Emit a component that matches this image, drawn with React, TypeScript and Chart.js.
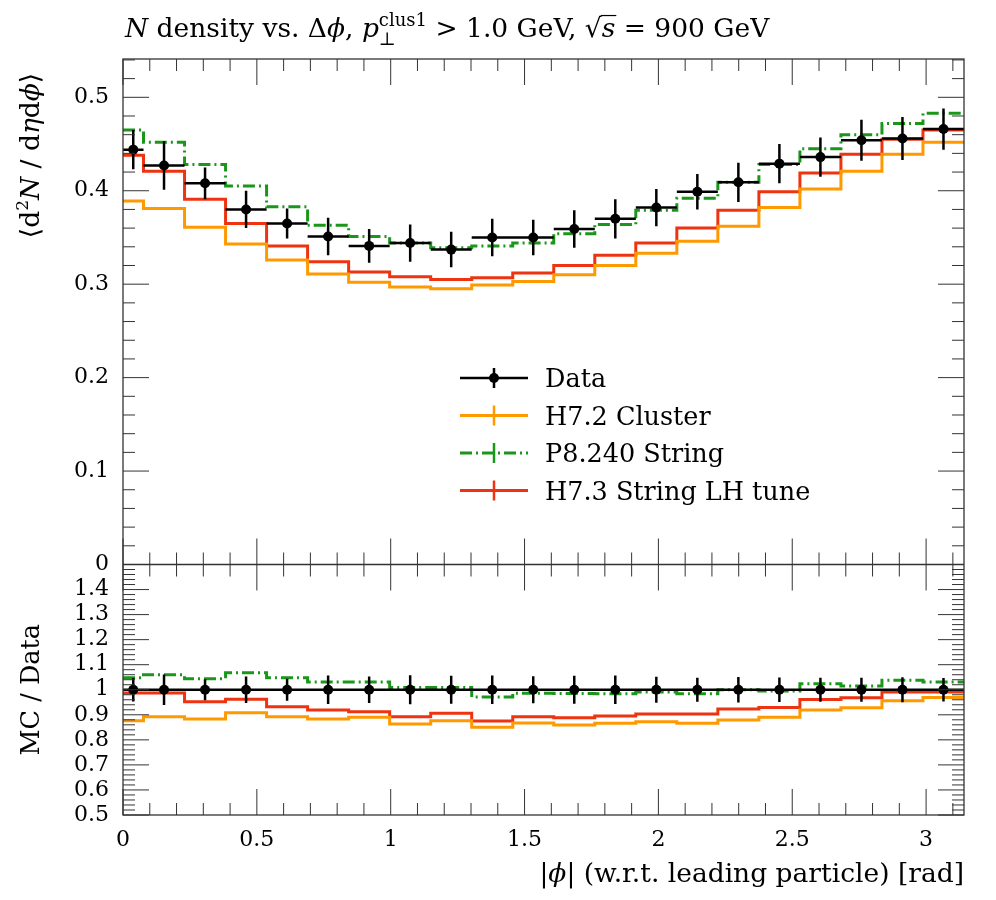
import React, { useEffect, useRef } from 'react';
import { Chart, registerables } from 'chart.js';
Chart.register(...registerables);

// ---- data ----
const binEdges = [0, 0.0766, 0.2299, 0.3831, 0.5364, 0.6896, 0.8429, 0.9961, 1.1494, 1.3026, 1.4559, 1.6091, 1.7624, 1.9156, 2.0689, 2.2221, 2.3754, 2.5286, 2.6819, 2.8351, 2.9883, 3.1416];
const dataVals = [0.444, 0.427, 0.408, 0.380, 0.365, 0.351, 0.341, 0.344, 0.337, 0.350, 0.350, 0.359, 0.370, 0.382, 0.399, 0.409, 0.429, 0.436, 0.454, 0.456, 0.466];
const dataErrs = [0.021, 0.026, 0.017, 0.020, 0.016, 0.020, 0.018, 0.020, 0.019, 0.020, 0.019, 0.020, 0.021, 0.020, 0.019, 0.021, 0.021, 0.021, 0.022, 0.023, 0.022];
const h72Vals = [0.389, 0.381, 0.361, 0.343, 0.326, 0.311, 0.302, 0.297, 0.295, 0.299, 0.303, 0.310, 0.320, 0.333, 0.346, 0.362, 0.382, 0.402, 0.421, 0.439, 0.452];
const p8Vals = [0.465, 0.452, 0.428, 0.405, 0.383, 0.363, 0.351, 0.344, 0.339, 0.341, 0.344, 0.354, 0.364, 0.379, 0.392, 0.409, 0.428, 0.445, 0.460, 0.472, 0.483];
const h73Vals = [0.438, 0.421, 0.391, 0.365, 0.341, 0.324, 0.313, 0.308, 0.305, 0.307, 0.312, 0.320, 0.331, 0.344, 0.360, 0.379, 0.399, 0.419, 0.439, 0.455, 0.465];

const dataRatioErrs = [0.047, 0.061, 0.042, 0.053, 0.044, 0.057, 0.053, 0.058, 0.056, 0.057, 0.054, 0.056, 0.057, 0.052, 0.048, 0.051, 0.049, 0.048, 0.048, 0.050, 0.047];
const h72Ratio = [0.876, 0.892, 0.883, 0.908, 0.892, 0.883, 0.890, 0.863, 0.876, 0.850, 0.867, 0.859, 0.866, 0.872, 0.866, 0.879, 0.890, 0.919, 0.928, 0.956, 0.969];
const p8Ratio = [1.048, 1.060, 1.044, 1.068, 1.048, 1.031, 1.031, 1.009, 1.009, 0.971, 0.986, 0.985, 0.984, 0.991, 0.984, 1.000, 0.995, 1.024, 1.015, 1.038, 1.031];
const h73Ratio = [0.987, 0.987, 0.952, 0.962, 0.932, 0.919, 0.912, 0.892, 0.906, 0.875, 0.892, 0.888, 0.895, 0.903, 0.903, 0.923, 0.929, 0.961, 0.968, 0.991, 0.991];

const xTickValues = [0, 0.5, 1, 1.5, 2, 2.5, 3];
const xTickLabels = ['0', '0.5', '1', '1.5', '2', '2.5', '3'];
const yTickValues = [0, 0.1, 0.2, 0.3, 0.4, 0.5];
const yTickLabels = ['0', '0.1', '0.2', '0.3', '0.4', '0.5'];
const rTickValues = [0.5, 0.6, 0.7, 0.8, 0.9, 1.0, 1.1, 1.2, 1.3, 1.4];
const rTickLabels = ['0.5', '0.6', '0.7', '0.8', '0.9', '1', '1.1', '1.2', '1.3', '1.4'];

const legendLabels = ['Data', 'H7.2 Cluster', 'P8.240 String', 'H7.3 String LH tune'];

const SERIF = "'DejaVu Serif', 'Liberation Serif', serif";
const C_DATA = '#000000';
const C_H72 = '#ff9900';
const C_P8 = '#1a961a';
const C_H73 = '#ee3311';
const P8_DASH = [12, 4, 2, 4];

type Seg = { t: string; it?: boolean; size?: number; dy?: number; noAdv?: boolean; over?: boolean };

function segFont(s: Seg, base: number) {
  return `${s.it ? 'italic ' : ''}${s.size || base}px ${SERIF}`;
}

function drawRich(ctx: CanvasRenderingContext2D, segs: Seg[], x: number, y: number, align: 'left' | 'right' | 'center', base: number) {
  let total = 0;
  for (const s of segs) {
    ctx.font = segFont(s, base);
    if (!s.noAdv) total += ctx.measureText(s.t).width;
  }
  let cx = align === 'left' ? x : align === 'right' ? x - total : x - total / 2;
  for (const s of segs) {
    ctx.font = segFont(s, base);
    const w = ctx.measureText(s.t).width;
    ctx.fillText(s.t, cx, y + (s.dy || 0));
    if (s.over) {
      ctx.save();
      ctx.lineWidth = 1.2;
      ctx.strokeStyle = '#000';
      ctx.beginPath();
      ctx.moveTo(cx - 1, y - base * 0.81);
      ctx.lineTo(cx + w + 1, y - base * 0.81);
      ctx.stroke();
      ctx.restore();
    }
    if (!s.noAdv) cx += w;
  }
}

const titleSegs: Seg[] = [
  { t: 'N', it: true },
  { t: ' density vs. Δ' },
  { t: 'ϕ', it: true },
  { t: ', ' },
  { t: 'p', it: true },
  { t: '⊥', size: 18, dy: 8, noAdv: true },
  { t: 'clus1', size: 18, dy: -11 },
  { t: ' > 1.0 GeV, ' },
  { t: '√' },
  { t: 's', it: true, over: true },
  { t: ' = 900 GeV' },
];
const yTitleSegs: Seg[] = [
  { t: '⟨d' },
  { t: '2', size: 17, dy: -11 },
  { t: 'N', it: true },
  { t: ' / d' },
  { t: 'η', it: true },
  { t: 'd' },
  { t: 'ϕ', it: true },
  { t: '⟩' },
];
const rTitleSegs: Seg[] = [{ t: 'MC / Data' }];
const xTitleSegs: Seg[] = [
  { t: '|' },
  { t: 'ϕ', it: true },
  { t: '| (w.r.t. leading particle) [rad]' },
];

function stepPoints(vals: number[]) {
  const pts: { x: number; y: number | null }[] = [];
  vals.forEach((v, i) => {
    pts.push({ x: binEdges[i], y: v });
    pts.push({ x: binEdges[i + 1], y: v });
  });
  return pts;
}
function hBarPoints(vals: number[]) {
  const pts: { x: number; y: number | null }[] = [];
  vals.forEach((v, i) => {
    pts.push({ x: binEdges[i], y: v });
    pts.push({ x: binEdges[i + 1], y: v });
    pts.push({ x: binEdges[i + 1], y: null });
  });
  return pts;
}
function vBarPoints(vals: number[], errs: number[]) {
  const pts: { x: number; y: number | null }[] = [];
  vals.forEach((v, i) => {
    const c = (binEdges[i] + binEdges[i + 1]) / 2;
    pts.push({ x: c, y: v - errs[i] });
    pts.push({ x: c, y: v + errs[i] });
    pts.push({ x: c, y: null });
  });
  return pts;
}
function centerPoints(vals: number[]) {
  return vals.map((v, i) => ({ x: (binEdges[i] + binEdges[i + 1]) / 2, y: v }));
}

const decorPlugin = {
  id: 'decor',
  afterDatasetsDraw(chart: any) {
    const { ctx, chartArea } = chart;
    const xs = chart.scales.x;
    const ys = chart.scales.y;
    const rs = chart.scales.y2;
    const L = chartArea.left, R = chartArea.right, T = chartArea.top, B = chartArea.bottom;
    const M = ys.bottom;
    ctx.save();
    ctx.strokeStyle = '#333';
    ctx.lineWidth = 1;
    ctx.beginPath();
    for (let k = 0; k <= 31; k++) {
      const px = xs.getPixelForValue(k / 10);
      const len = k % 5 === 0 ? 26 : 12;
      ctx.moveTo(px, T); ctx.lineTo(px, T + len);
      ctx.moveTo(px, M); ctx.lineTo(px, M - len);
      ctx.moveTo(px, M); ctx.lineTo(px, M + len);
      ctx.moveTo(px, B); ctx.lineTo(px, B - len);
    }
    for (let k = 0; k <= 27; k++) {
      const py = ys.getPixelForValue(k * 0.02);
      const len = k % 5 === 0 ? 26 : 12;
      ctx.moveTo(L, py); ctx.lineTo(L + len, py);
      ctx.moveTo(R, py); ctx.lineTo(R - len, py);
    }
    for (let k = 0; k <= 50; k++) {
      const py = rs.getPixelForValue(0.5 + k * 0.02);
      const len = k % 5 === 0 ? 26 : 12;
      ctx.moveTo(L, py); ctx.lineTo(L + len, py);
      ctx.moveTo(R, py); ctx.lineTo(R - len, py);
    }
    ctx.stroke();
    ctx.lineWidth = 1.3;
    ctx.strokeRect(L, T, R - L, B - T);
    ctx.beginPath();
    ctx.moveTo(L, M); ctx.lineTo(R, M);
    ctx.stroke();
    ctx.restore();
  },
  afterDraw(chart: any) {
    const ctx: CanvasRenderingContext2D = chart.ctx;
    const { chartArea } = chart;
    const rs = chart.scales.y2;
    ctx.save();
    ctx.fillStyle = '#000';
    ctx.textBaseline = 'alphabetic';
    // title
    drawRich(ctx, titleSegs, chartArea.left + 2, 37, 'left', 26.5);
    // x title
    drawRich(ctx, xTitleSegs, chartArea.right, 882, 'right', 26.5);
    // y title (rotated)
    ctx.save();
    ctx.translate(39, (chartArea.top + 252) / 2);
    ctx.rotate(-Math.PI / 2);
    drawRich(ctx, yTitleSegs, 0, 0, 'center', 26.5);
    ctx.restore();
    ctx.save();
    ctx.translate(39, (rs.top + rs.bottom) / 2);
    ctx.rotate(-Math.PI / 2);
    drawRich(ctx, rTitleSegs, 0, 0, 'center', 25.5);
    ctx.restore();

    // legend
    const colors = [C_DATA, C_H72, C_P8, C_H73];
    const lx0 = 460, lx1 = 528, lxm = 494, tx = 545, ly0 = 378, dly = 37.5;
    colors.forEach((col, i) => {
      const y = ly0 + i * dly;
      ctx.save();
      ctx.strokeStyle = col;
      ctx.lineWidth = i === 0 ? 2.5 : 3;
      if (i === 2) ctx.setLineDash(P8_DASH);
      ctx.beginPath();
      ctx.moveTo(lx0, y); ctx.lineTo(lx1, y);
      ctx.stroke();
      ctx.setLineDash([]);
      ctx.lineWidth = 2.5;
      ctx.beginPath();
      ctx.moveTo(lxm, y - 10); ctx.lineTo(lxm, y + 10);
      ctx.stroke();
      if (i === 0) {
        ctx.fillStyle = col;
        ctx.beginPath();
        ctx.arc(lxm, y, 5, 0, Math.PI * 2);
        ctx.fill();
      }
      ctx.restore();
      ctx.font = `25.5px ${SERIF}`;
      ctx.fillText(legendLabels[i], tx, y + 9);
    });
    ctx.restore();
  },
};

export default function App() {
  const ref = useRef<HTMLCanvasElement>(null);
  useEffect(() => {
    const canvas = ref.current;
    if (!canvas) return;
    const ratioOnes = dataVals.map(() => 1);
    const line = (data: any[], color: string, axis: string, width: number, dash?: number[]) => ({
      type: 'line' as const,
      data,
      yAxisID: axis,
      borderColor: color,
      backgroundColor: color,
      borderWidth: width,
      borderDash: dash || [],
      pointRadius: 0,
      tension: 0,
      fill: false,
      spanGaps: false,
    });
    const markers = (data: any[], axis: string) => ({
      type: 'line' as const,
      data,
      yAxisID: axis,
      showLine: false,
      pointRadius: 5,
      pointBackgroundColor: C_DATA,
      pointBorderWidth: 0,
      borderColor: C_DATA,
    });
    const chart = new Chart(canvas, {
      type: 'line',
      data: {
        datasets: [
          markers(centerPoints(dataVals), 'y'),
          markers(centerPoints(ratioOnes), 'y2'),
          line(hBarPoints(dataVals), C_DATA, 'y', 2.5),
          line(vBarPoints(dataVals, dataErrs), C_DATA, 'y', 2.5),
          line(hBarPoints(ratioOnes), C_DATA, 'y2', 2.5),
          line(vBarPoints(ratioOnes, dataRatioErrs), C_DATA, 'y2', 2.5),
          line(stepPoints(h72Vals), C_H72, 'y', 3),
          line(stepPoints(h72Ratio), C_H72, 'y2', 3),
          line(stepPoints(p8Vals), C_P8, 'y', 3, P8_DASH),
          line(stepPoints(p8Ratio), C_P8, 'y2', 3, P8_DASH),
          line(stepPoints(h73Vals), C_H73, 'y', 3),
          line(stepPoints(h73Ratio), C_H73, 'y2', 3),
        ] as any,
      },
      options: {
        animation: false,
        responsive: false,
        events: [],
        layout: { padding: { top: 59, right: 32, left: 0, bottom: 0 } },
        plugins: { legend: { display: false }, tooltip: { enabled: false }, title: { display: false } },
        scales: {
          x: {
            type: 'linear',
            position: 'bottom',
            min: 0,
            max: Math.PI,
            grid: { display: false, drawTicks: false },
            border: { display: false },
            afterBuildTicks: (s: any) => { s.ticks = xTickValues.map((v) => ({ value: v })); },
            afterFit: (s: any) => { s.height = 85; },
            ticks: {
              autoSkip: false,
              maxRotation: 0,
              padding: 12,
              color: '#000',
              font: { family: SERIF, size: 22 },
              callback: (_v: any, i: number) => xTickLabels[i],
            },
          },
          y2: {
            type: 'linear',
            position: 'left',
            stack: 'v',
            stackWeight: 250.5,
            weight: 1,
            min: 0.5,
            max: 1.5,
            grid: { display: false, drawTicks: false },
            border: { display: false },
            afterBuildTicks: (s: any) => { s.ticks = rTickValues.map((v) => ({ value: v })); },
            afterFit: (s: any) => { s.width = 123; },
            ticks: {
              autoSkip: false,
              padding: 14,
              color: '#000',
              font: { family: SERIF, size: 22 },
              callback: (_v: any, i: number) => rTickLabels[i],
            },
          },
          y: {
            type: 'linear',
            position: 'left',
            stack: 'v',
            stackWeight: 505.5,
            weight: 2,
            min: 0,
            max: 0.541,
            grid: { display: false, drawTicks: false },
            border: { display: false },
            afterBuildTicks: (s: any) => { s.ticks = yTickValues.map((v) => ({ value: v })); },
            afterFit: (s: any) => { s.width = 123; },
            ticks: {
              autoSkip: false,
              padding: 14,
              color: '#000',
              font: { family: SERIF, size: 22 },
              callback: (_v: any, i: number) => yTickLabels[i],
            },
          },
        },
      } as any,
      plugins: [decorPlugin],
    });
    return () => chart.destroy();
  }, []);
  return (
    <div style={{ position: 'absolute', left: 0, top: 0, width: 996, height: 900, background: '#fff' }}>
      <canvas ref={ref} width={996} height={900} style={{ width: 996, height: 900, display: 'block' }} />
    </div>
  );
}
